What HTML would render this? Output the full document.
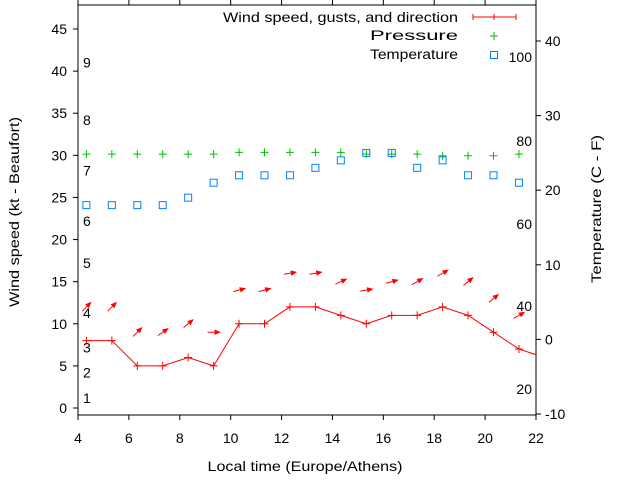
<!DOCTYPE html>
<html><head><meta charset="utf-8"><style>
html,body{margin:0;padding:0;background:#fff;}
svg{display:block;font-family:"Liberation Sans",sans-serif;}
</style></head><body>
<svg id="chart" width="640" height="480" viewBox="0 0 640 480"></svg>
<script>
const times=[4.33,5.33,6.33,7.33,8.33,9.33,10.33,11.33,12.33,13.33,14.33,15.33,16.33,17.33,18.33,19.33,20.33,21.33,22.33];
const wind=[8,8,5,5,6,5,10,10,12,12,11,10,11,11,12,11,9,7,6];
const gusts=[12,12,9,9,10,9,14,14,16,16,15,14,15,15,16,15,13,11];
const dirAngles=[45,45,45,35,40,0,15,15,10,10,25,10,15,30,30,40,40,30];
const pressure=[30.15,30.15,30.15,30.15,30.15,30.15,30.35,30.35,30.35,30.35,30.35,30.15,30.15,30.15,29.95,29.95,29.95,30.15];
const temps=[18,18,18,18,19,21,22,22,22,23,24,25,25,23,24,22,22,21];
const xTicks=[4,6,8,10,12,14,16,18,20,22];
const yTicks=[0,5,10,15,20,25,30,35,40,45];
const y2Ticks=[-10,0,10,20,30,40];
const beaufort=[[1,1.2],[2,4.2],[3,7.2],[4,11.3],[5,17.2],[6,22.2],[7,28.2],[8,34.2],[9,41]];
const fahr=[20,40,60,80,100];

const L=78,R=536,T=5,B=415;
const X=h=>L+(h-4)*(R-L)/18;
const Y=v=>408-v*8.422;
const Y2=c=>339.4-c*7.46;
const svg=document.getElementById('chart');
const NS='http://www.w3.org/2000/svg';
function mk(t,a,p){const e=document.createElementNS(NS,t);for(const k in a)e.setAttribute(k,a[k]);(p||svg).appendChild(e);return e;}
function txt(x,y,s,anchor,size,len){const e=mk('text',{x:x,y:y,'text-anchor':anchor||'middle','font-size':size||14,fill:'#000'});if(len){e.setAttribute('textLength',len);e.setAttribute('lengthAdjust','spacingAndGlyphs');}e.textContent=s;return e;}

const defs=mk('defs',{});const cp=mk('clipPath',{id:'pc'},defs);mk('rect',{x:L,y:T,width:R-L,height:B-T},cp);

const fr=mk('rect',{x:L,y:T,width:R-L,height:B-T,fill:'none',stroke:'#000','stroke-width':1});



xTicks.forEach(h=>{
  mk('line',{x1:X(h),x2:X(h),y1:B,y2:B+5,stroke:'#000'});
  mk('line',{x1:X(h),x2:X(h),y1:T,y2:T-5,stroke:'#000'});
  const t=txt(X(h),443,String(h),'middle',14);
  
  
});
yTicks.forEach(v=>{
  mk('line',{x1:L-5,x2:L,y1:Y(v),y2:Y(v),stroke:'#000'});
  const t=txt(67,Y(v)+5,String(v),'end',14);
  
  
});
y2Ticks.forEach(c=>{
  mk('line',{x1:R,x2:R+5,y1:Y2(c),y2:Y2(c),stroke:'#000'});
  const t=txt(545,Y2(c)+5,String(c),'start',14);
  
  
});
beaufort.forEach(b=>{
  const t=txt(83,Y(b[1])+5,String(b[0]),'start',14);
  
  
});
const fy={20:394,40:311,60:229,80:146,100:62};
fahr.forEach(f=>{
  const t=txt(532,fy[f],String(f),'end',14);
  
  
});

let t=txt(305,471,'Local time (Europe/Athens)','middle',14,195);


t=mk('text',{x:0,y:0,'text-anchor':'middle','font-size':14,textLength:190,lengthAdjust:'spacingAndGlyphs',transform:'translate(19,212) rotate(-90)'});t.textContent='Wind speed (kt - Beaufort)';


t=mk('text',{x:0,y:0,'text-anchor':'middle','font-size':14,textLength:148,lengthAdjust:'spacingAndGlyphs',transform:'translate(601,209) rotate(-90)'});t.textContent='Temperature (C - F)';



const g=mk('g',{'clip-path':'url(#pc)'});
const pts=times.map((h,i)=>X(h)+','+Y(wind[i])).join(' ');
const wl=mk('polyline',{points:pts,fill:'none',stroke:'#f00','stroke-width':1},g);


times.forEach((h,i)=>{
  const x=X(h),y=Y(wind[i]);
  const p=mk('path',{d:`M${x-4},${y}H${x+4}M${x},${y-4}V${y+4}`,stroke:'#f00'},g);
  
  
});
gusts.forEach((v,i)=>{
  const cx=X(times[i]),cy=Y(v),a=dirAngles[i]*Math.PI/180,l=6;
  const dx=Math.cos(a)*l,dy=-Math.sin(a)*l;
  const x1=cx-dx,y1=cy-dy,x2=cx+dx,y2=cy+dy;
  const ang=Math.atan2(y2-y1,x2-x1);
  const h1x=x2-5*Math.cos(ang-0.4),h1y=y2-5*Math.sin(ang-0.4),h2x=x2-5*Math.cos(ang+0.4),h2y=y2-5*Math.sin(ang+0.4);
  const p=mk('path',{d:`M${x1},${y1}L${x2},${y2}M${h1x},${h1y}L${x2},${y2}L${h2x},${h2y}Z`,stroke:'#f00',fill:'#f00','stroke-width':1},g);
  
  
});
pressure.forEach((v,i)=>{
  const x=X(times[i]),y=Y(v);
  const p=mk('path',{d:`M${x-4},${y}H${x+4}M${x},${y-4}V${y+4}`,stroke:'#00c000'},g);
  
  
});
temps.forEach((c,i)=>{
  const r=mk('rect',{x:X(times[i])-3.5,y:Y2(c)-3.5,width:7,height:7,fill:'none',stroke:'#0080ff'},g);
  
  
});

const lg=mk('g',{});


txt(458,22,'Wind speed, gusts, and direction','end',14,235);
mk('path',{d:'M473,17H516M473,14V20M494,14V20M516,14V20',stroke:'#f00'},lg);
txt(458,40,'Pressure','end',14,88);
mk('path',{d:'M490,36H498M494,32V40',stroke:'#00c000'},lg);
txt(458,59,'Temperature','end',14,88);
mk('rect',{x:490.5,y:51.5,width:7,height:7,fill:'none',stroke:'#0080ff'},lg);
</script>
</body></html>
